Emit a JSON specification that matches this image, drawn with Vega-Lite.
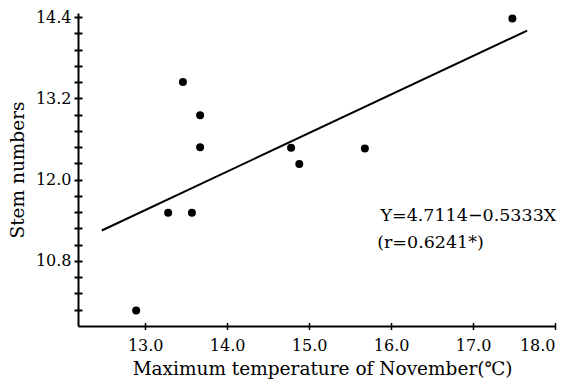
{
  "$schema": "https://vega.github.io/schema/vega-lite/v6.json",
  "width": 477,
  "height": 313,
  "padding": {"left": 78, "top": 13, "right": 8, "bottom": 63},
  "autosize": {"type": "none"},
  "background": "white",
  "config": {
    "view": {"stroke": null},
    "font": "DejaVu Serif",
    "axis": {"grid": false, "domainColor": "black", "tickColor": "black", "labelColor": "black", "titleColor": "black", "labelFont": "DejaVu Serif", "titleFont": "DejaVu Serif", "titleFontWeight": "normal", "labelOverlap": false}
  },
  "resolve": {"axis": {"x": "independent", "y": "independent"}},
  "datasets": {
    "pts": [
      {"temp": 13.46, "stems": 13.44},
      {"temp": 13.67, "stems": 12.95},
      {"temp": 13.67, "stems": 12.48},
      {"temp": 13.28, "stems": 11.51},
      {"temp": 13.57, "stems": 11.51},
      {"temp": 12.89, "stems": 10.07},
      {"temp": 14.78, "stems": 12.47},
      {"temp": 14.88, "stems": 12.23},
      {"temp": 15.68, "stems": 12.46},
      {"temp": 17.48, "stems": 14.38}
    ],
    "fit": [
      {"temp": 12.47, "stems": 11.25},
      {"temp": 17.66, "stems": 14.2}
    ],
    "notes": [
      {"temp": 15.87, "stems": 11.46, "label": "Y=4.7114−0.5333X"},
      {"temp": 15.83, "stems": 11.06, "label": "(r=0.6241*)"}
    ]
  },
  "layer": [
    {
      "data": {"name": "fit"},
      "mark": {"type": "line", "color": "black", "strokeWidth": 2},
      "encoding": {
        "x": {"field": "temp", "type": "quantitative", "scale": {"domain": [12.18, 18.0], "nice": false, "zero": false},
          "axis": {"orient": "bottom", "values": [13, 14, 15, 16, 17, 18], "format": ".1f", "labelFontSize": 16, "ticks": false, "domainWidth": 2, "labelPadding": 11, "labelFlush": true,
            "title": "Maximum temperature of November(℃)", "titleFontSize": 18.5, "titlePadding": 6, "titleX": 244}},
        "y": {"field": "stems", "type": "quantitative", "scale": {"domain": [9.84, 14.46], "nice": false, "zero": false},
          "axis": {"orient": "left", "values": [10.8, 12.0, 13.2, 14.4], "format": ".1f",
            "labelFontSize": 16, "ticks": false, "domainWidth": 2, "labelPadding": 7,
            "title": "Stem numbers", "titleFontSize": 18.5, "titlePadding": 8}}
      }
    },
    {
      "data": {"name": "pts"},
      "mark": {"type": "point", "filled": true, "color": "black", "opacity": 1, "size": 64},
      "encoding": {
        "x": {"field": "temp", "type": "quantitative",
          "axis": {"orient": "bottom", "values": [13, 14, 15, 16, 17, 18], "labels": false, "domain": false, "tickSize": 7, "tickWidth": 1.5, "offset": -3.5, "title": null}},
        "y": {"field": "stems", "type": "quantitative",
          "axis": {"orient": "left", "values": [10.08, 10.32, 10.56, 10.8, 11.04, 11.28, 11.52, 11.76, 12.0, 12.24, 12.48, 12.72, 12.96, 13.2, 13.44, 13.68, 13.92, 14.16, 14.4],
            "labels": false, "domain": false, "tickSize": 8, "tickWidth": 2, "offset": -4, "title": null}}
      }
    },
    {
      "data": {"name": "notes"},
      "mark": {"type": "text", "align": "left", "baseline": "middle", "fontSize": 17.5, "color": "black", "font": "DejaVu Serif"},
      "encoding": {
        "x": {"field": "temp", "type": "quantitative", "axis": null},
        "y": {"field": "stems", "type": "quantitative", "axis": null},
        "text": {"field": "label"}
      }
    }
  ]
}
